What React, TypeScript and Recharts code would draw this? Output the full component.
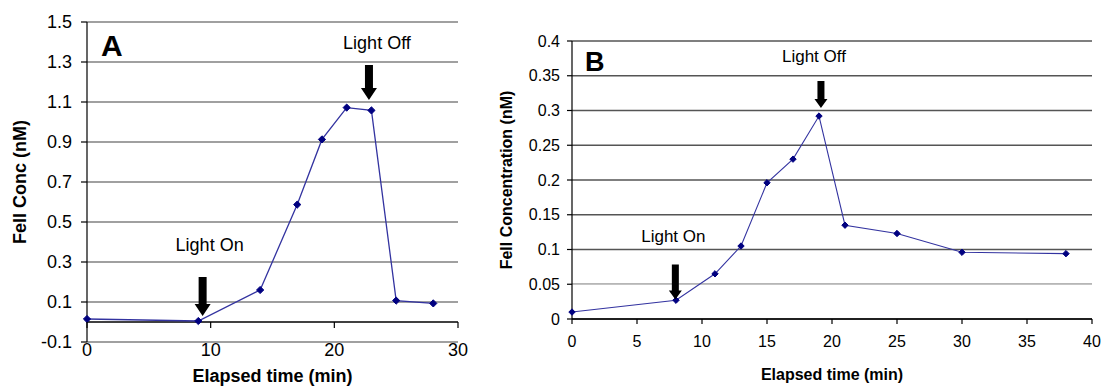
import {
  CartesianGrid,
  Line,
  LineChart,
  ReferenceDot,
  ReferenceLine,
  XAxis,
  YAxis,
} from "recharts";

// Panel A
const TIME_A = [0, 9, 14, 17, 19, 21, 23, 25, 28];
const CONC_A = [0.015, 0.005, 0.16, 0.587, 0.913, 1.072, 1.058, 0.107, 0.093];
const X_TICKS_A = [0, 10, 20, 30];
const Y_TICKS_A = [-0.1, 0.1, 0.3, 0.5, 0.7, 0.9, 1.1, 1.3, 1.5];

// Panel B
const TIME_B = [0, 8, 11, 13, 15, 17, 19, 21, 25, 30, 38];
const CONC_B = [0.01, 0.027, 0.065, 0.105, 0.196, 0.23, 0.292, 0.135, 0.123, 0.096, 0.094];
const X_TICKS_B = [0, 5, 10, 15, 20, 25, 30, 35, 40];
const Y_TICKS_B = [0, 0.05, 0.1, 0.15, 0.2, 0.25, 0.3, 0.35, 0.4];

// arrow tips (time, conc)
const LIGHT_A = [
  { label: "Light On", t: 9.35, c: 0.03 },
  { label: "Light Off", t: 22.8, c: 1.11 },
];
const LIGHT_B = [
  { label: "Light On", t: 7.95, c: 0.028 },
  { label: "Light Off", t: 19.15, c: 0.3036 },
];

const FONT = "'Liberation Sans', Arial, sans-serif";
const LINE = "#3333a0";
const MARK = "#000080";

const rowsA = TIME_A.map((t, i) => ({ t, conc: CONC_A[i] }));
const rowsB = TIME_B.map((t, i) => ({ t, conc: CONC_B[i] }));

function diamond(r: number) {
  return (p: any) => {
    const { cx, cy, index } = p;
    if (cx == null || cy == null) return <g key={index} />;
    return (
      <polygon
        key={index}
        points={`${cx},${cy - r} ${cx + r},${cy} ${cx},${cy + r} ${cx - r},${cy}`}
        fill={MARK}
        stroke={MARK}
      />
    );
  };
}

interface ArrowOpts {
  len: number;
  shaft: number;
  head: number;
  headLen: number;
  dx: number;
  dy: number;
  fontSize: number;
  label: string;
}

function arrowShape(o: ArrowOpts) {
  return (p: any) => {
    const { cx, cy } = p;
    const pts = [
      [cx - o.shaft, cy - o.len],
      [cx + o.shaft, cy - o.len],
      [cx + o.shaft, cy - o.headLen],
      [cx + o.head, cy - o.headLen],
      [cx, cy],
      [cx - o.head, cy - o.headLen],
      [cx - o.shaft, cy - o.headLen],
    ]
      .map((q) => q.join(","))
      .join(" ");
    return (
      <g>
        <polygon points={pts} fill="#000" />
        <text
          x={cx + o.dx}
          y={cy + o.dy}
          textAnchor="middle"
          dominantBaseline="central"
          fontSize={o.fontSize}
          fontFamily={FONT}
          fill="#000"
        >
          {o.label}
        </text>
      </g>
    );
  };
}

// x axis of panel A sits on the zero line, 20px above the plot bottom
function TickA(p: any) {
  const { x, y, payload } = p;
  return (
    <g>
      <line x1={x} x2={x} y1={y - 20} y2={y - 14} stroke="#000" strokeWidth={1.2} />
      <text x={x} y={y + 14} textAnchor="middle" fontSize={18} fontFamily={FONT} fill="#000">
        {payload.value}
      </text>
    </g>
  );
}

function PanelA() {
  const offsets = [
    { len: 39, dx: 7, dy: -71 },
    { len: 35, dx: 8, dy: -57 },
  ];
  return (
    <LineChart
      width={480}
      height={387}
      data={rowsA}
      margin={{ top: 22, right: 22, bottom: 0, left: 0 }}
      style={{ fontFamily: FONT }}
    >
      <CartesianGrid vertical={false} stroke="#808080" strokeWidth={1.6} />
      <XAxis
        dataKey="t"
        type="number"
        domain={[0, 30]}
        ticks={X_TICKS_A}
        axisLine={false}
        tickLine={false}
        tickSize={0}
        tickMargin={0}
        height={45}
        tick={<TickA />}
        label={{
          value: "Elapsed time (min)",
          position: "insideBottom",
          offset: 5,
          style: { fontSize: 18, fontWeight: "bold", fill: "#000" },
        }}
      />
      <YAxis
        type="number"
        domain={[-0.1, 1.5]}
        ticks={Y_TICKS_A}
        width={87}
        axisLine={{ stroke: "#000", strokeWidth: 1.2 }}
        tickLine={{ stroke: "#000", strokeWidth: 1.2 }}
        tickSize={6}
        tickMargin={9}
        tick={{ fontSize: 18, fill: "#000" }}
        label={{
          value: "FeII Conc (nM)",
          angle: -90,
          position: "insideLeft",
          offset: 20,
          style: { textAnchor: "middle", fontSize: 18, fontWeight: "bold", fill: "#000" },
        }}
      />
      <ReferenceLine y={0} stroke="#000" strokeWidth={1.4} />
      <Line
        dataKey="conc"
        type="linear"
        stroke={LINE}
        strokeWidth={1.3}
        dot={diamond(3.6)}
        activeDot={false}
        isAnimationActive={false}
      />
      {LIGHT_A.map((a, i) => (
        <ReferenceDot
          key={a.label}
          x={a.t}
          y={a.c}
          r={0}
          shape={arrowShape({
            ...offsets[i],
            shaft: 4,
            head: 8,
            headLen: 12,
            fontSize: 18,
            label: a.label,
          })}
        />
      ))}
    </LineChart>
  );
}

function PanelB() {
  const offsets = [
    { len: 35, dx: -2, dy: -63 },
    { len: 27, dx: -7, dy: -51 },
  ];
  return (
    <LineChart
      width={624}
      height={387}
      data={rowsB}
      margin={{ top: 41, right: 12, bottom: 0, left: 0 }}
      style={{ fontFamily: FONT }}
    >
      <CartesianGrid vertical={false} stroke="#555555" strokeWidth={1.5} />
      <ReferenceLine y={0.05} stroke="#c4c4c4" strokeWidth={1.6} />
      <XAxis
        dataKey="t"
        type="number"
        domain={[0, 40]}
        ticks={X_TICKS_B}
        height={68}
        axisLine={{ stroke: "#000", strokeWidth: 1.3 }}
        tickLine={{ stroke: "#000", strokeWidth: 1.2 }}
        tickSize={5}
        tickMargin={12}
        tick={{ fontSize: 16, fill: "#000" }}
        label={{
          value: "Elapsed time (min)",
          position: "insideBottom",
          offset: 7,
          style: { fontSize: 16, fontWeight: "bold", fill: "#000" },
        }}
      />
      <YAxis
        type="number"
        domain={[0, 0.4]}
        ticks={Y_TICKS_B}
        width={92}
        axisLine={{ stroke: "#000", strokeWidth: 1.2 }}
        tickLine={{ stroke: "#000", strokeWidth: 1.2 }}
        tickSize={5}
        tickMargin={7}
        tick={{ fontSize: 16, fill: "#000" }}
        label={{
          value: "FeII Concentration (nM)",
          angle: -90,
          position: "insideLeft",
          offset: 26,
          style: { textAnchor: "middle", fontSize: 16, fontWeight: "bold", fill: "#000" },
        }}
      />
      <Line
        dataKey="conc"
        type="linear"
        stroke={LINE}
        strokeWidth={1.1}
        dot={diamond(3.2)}
        activeDot={false}
        isAnimationActive={false}
      />
      {LIGHT_B.map((a, i) => (
        <ReferenceDot
          key={a.label}
          x={a.t}
          y={a.c}
          r={0}
          shape={arrowShape({
            ...offsets[i],
            shaft: 3.5,
            head: 6.5,
            headLen: 9,
            fontSize: 17,
            label: a.label,
          })}
        />
      ))}
    </LineChart>
  );
}

export default function App() {
  return (
    <div
      style={{
        position: "absolute",
        left: 0,
        top: 0,
        width: 1104,
        height: 387,
        background: "#fff",
        overflow: "hidden",
        fontFamily: FONT,
      }}
    >
      <div style={{ position: "absolute", left: 0, top: 0 }}>
        <PanelA />
      </div>
      <div style={{ position: "absolute", left: 480, top: 0 }}>
        <PanelB />
      </div>
      <div
        style={{
          position: "absolute",
          left: 101,
          top: 31,
          fontSize: 30,
          lineHeight: "30px",
          fontWeight: "bold",
        }}
      >
        A
      </div>
      <div
        style={{
          position: "absolute",
          left: 585,
          top: 49,
          fontSize: 27,
          lineHeight: "27px",
          fontWeight: "bold",
        }}
      >
        B
      </div>
    </div>
  );
}
